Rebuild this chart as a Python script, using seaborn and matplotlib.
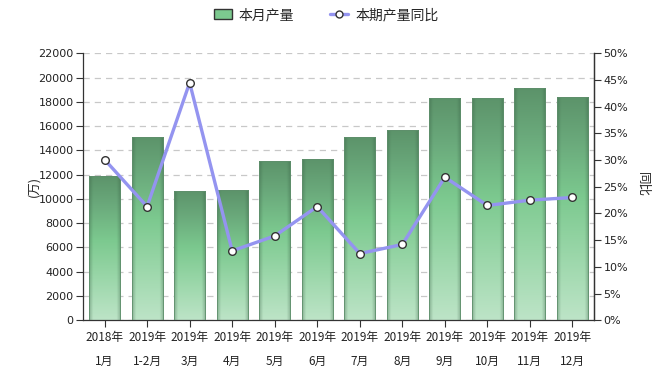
import numpy as np
import pandas as pd
import matplotlib
matplotlib.use("Agg")
import matplotlib.pyplot as plt
from matplotlib.colors import LinearSegmentedColormap
from matplotlib.lines import Line2D
from matplotlib.patches import Patch
import seaborn as sns

years = ["2018年", "2019年", "2019年", "2019年", "2019年", "2019年",
         "2019年", "2019年", "2019年", "2019年", "2019年", "2019年"]
months = ["1月", "1-2月", "3月", "4月", "5月", "6月",
          "7月", "8月", "9月", "10月", "11月", "12月"]
output = [11900, 15100, 10650, 10700, 13150, 13300,
          15100, 15700, 18350, 18350, 19100, 18400]
yoy = [30.1, 21.3, 44.5, 13.0, 15.8, 21.3,
       12.5, 14.2, 26.8, 21.5, 22.5, 23.0]
left_ticks = list(range(0, 22001, 2000))
right_ticks = list(range(0, 51, 5))
series_names = ["本月产量", "本期产量同比"]

sns.set_theme(style="white")
plt.rcParams['font.family'] = ['Noto Sans CJK SC', 'DejaVu Sans']

categories = [f"{y}\n{m}" for y, m in zip(years, months)]
df = pd.DataFrame({"cat": categories, "output": output, "yoy": yoy,
                   "idx": np.arange(len(categories))})

fig = plt.figure(figsize=(6.52, 3.79), dpi=100)
ax = fig.add_axes([83.3 / 652, 1 - 320.3 / 379, (593.7 - 83.3) / 652, (320.3 - 53.3) / 379])

sns.barplot(data=df, x="cat", y="output", ax=ax, width=0.73,
            color="#7cc98f", edgecolor="#5f8f6c", linewidth=0.6, zorder=2)

cmap = LinearSegmentedColormap.from_list(
    "g", [(0.0, "#bde4c7"), (0.3, "#99d6a8"), (0.55, "#7cc98f"),
          (0.8, "#6aa97b"), (1.0, "#5c936a")])
grad = np.linspace(0, 1, 256).reshape(-1, 1)
for p in ax.patches:
    x0, w, h = p.get_x(), p.get_width(), p.get_height()
    im = ax.imshow(grad, cmap=cmap, origin="lower", aspect="auto",
                   extent=[x0, x0 + w, 0, h], zorder=2.5)
    im.set_clip_path(p)
    side = np.concatenate([np.linspace(0.35, 0, 8), np.zeros(40), np.linspace(0, 0.35, 8)]).reshape(1, -1)
    rgba = np.zeros((1, side.shape[1], 4))
    rgba[..., 0] = 0.2; rgba[..., 1] = 0.35; rgba[..., 2] = 0.25
    rgba[..., 3] = side
    im2 = ax.imshow(rgba, origin="lower", aspect="auto",
                    extent=[x0, x0 + w, 0, h], zorder=2.6, interpolation="bilinear")
    im2.set_clip_path(p)
    p.set_facecolor("none")
    p.set_zorder(2.7)

ax.set_xlim(-0.5, len(categories) - 0.5)
ax.set_ylim(0, 22000)
ax.set_yticks(left_ticks)
ax.set_yticklabels([str(t) for t in left_ticks], fontsize=8, family="DejaVu Sans")
ax.tick_params(axis="x", labelsize=8.5, length=5, width=0.8, colors="#333333",
               labelcolor="#222222", pad=3, bottom=True)
ax.tick_params(axis="y", length=5, width=0.8, colors="#333333",
               labelcolor="#222222", pad=2, left=True)
for lab in ax.get_xticklabels():
    lab.set_linespacing(2.1)
ax.set_xlabel("")
ax.set_ylabel("(万)", fontsize=9, labelpad=6)
ax.yaxis.set_label_coords(-0.085, 0.5)
ax.yaxis.grid(True, linestyle=(0, (5, 4)), color="#c8c8c8", linewidth=0.9, zorder=0)
ax.set_axisbelow(True)
ax.spines["top"].set_visible(False)
for s in ["left", "bottom", "right"]:
    ax.spines[s].set_color("#333333")
    ax.spines[s].set_linewidth(0.9)

ax2 = ax.twinx()
sns.lineplot(data=df, x="idx", y="yoy", ax=ax2, color="#9494f0", linewidth=2.4,
             marker="o", markersize=5.5, markerfacecolor="white",
             markeredgecolor="#333333", markeredgewidth=1.0, zorder=5)
ax2.set_ylim(0, 50)
ax2.set_yticks(right_ticks)
ax2.set_yticklabels([f"{t}%" for t in right_ticks], fontsize=8, family="DejaVu Sans")
ax2.tick_params(axis="y", length=5, width=0.8, colors="#333333",
                labelcolor="#222222", pad=2, right=True)
ax2.set_xlim(-0.5, len(categories) - 0.5)
ax2.set_xlabel("")
ax2.set_ylabel("")
ax2.spines["top"].set_visible(False)
ax2.spines["left"].set_visible(False)
ax2.spines["bottom"].set_visible(False)
ax2.spines["right"].set_color("#333333")
ax2.spines["right"].set_linewidth(0.9)
ax2.grid(False)
fig.text(643 / 652, 1 - 185 / 379, "同比", rotation=270, fontsize=9,
         ha="center", va="center", color="#222222")

handles = [Patch(facecolor="#7cc98f", edgecolor="#333333", linewidth=1.0),
           Line2D([0], [0], color="#9494f0", linewidth=2.4, marker="o", markersize=5,
                  markerfacecolor="white", markeredgecolor="#333333")]
fig.legend(handles, series_names, loc="center", bbox_to_anchor=(0.5, 1 - 15 / 379),
           ncol=2, frameon=False, fontsize=10, handlelength=1.3,
           handletextpad=0.5, columnspacing=2.6)

fig.savefig("out.png", dpi=100)
